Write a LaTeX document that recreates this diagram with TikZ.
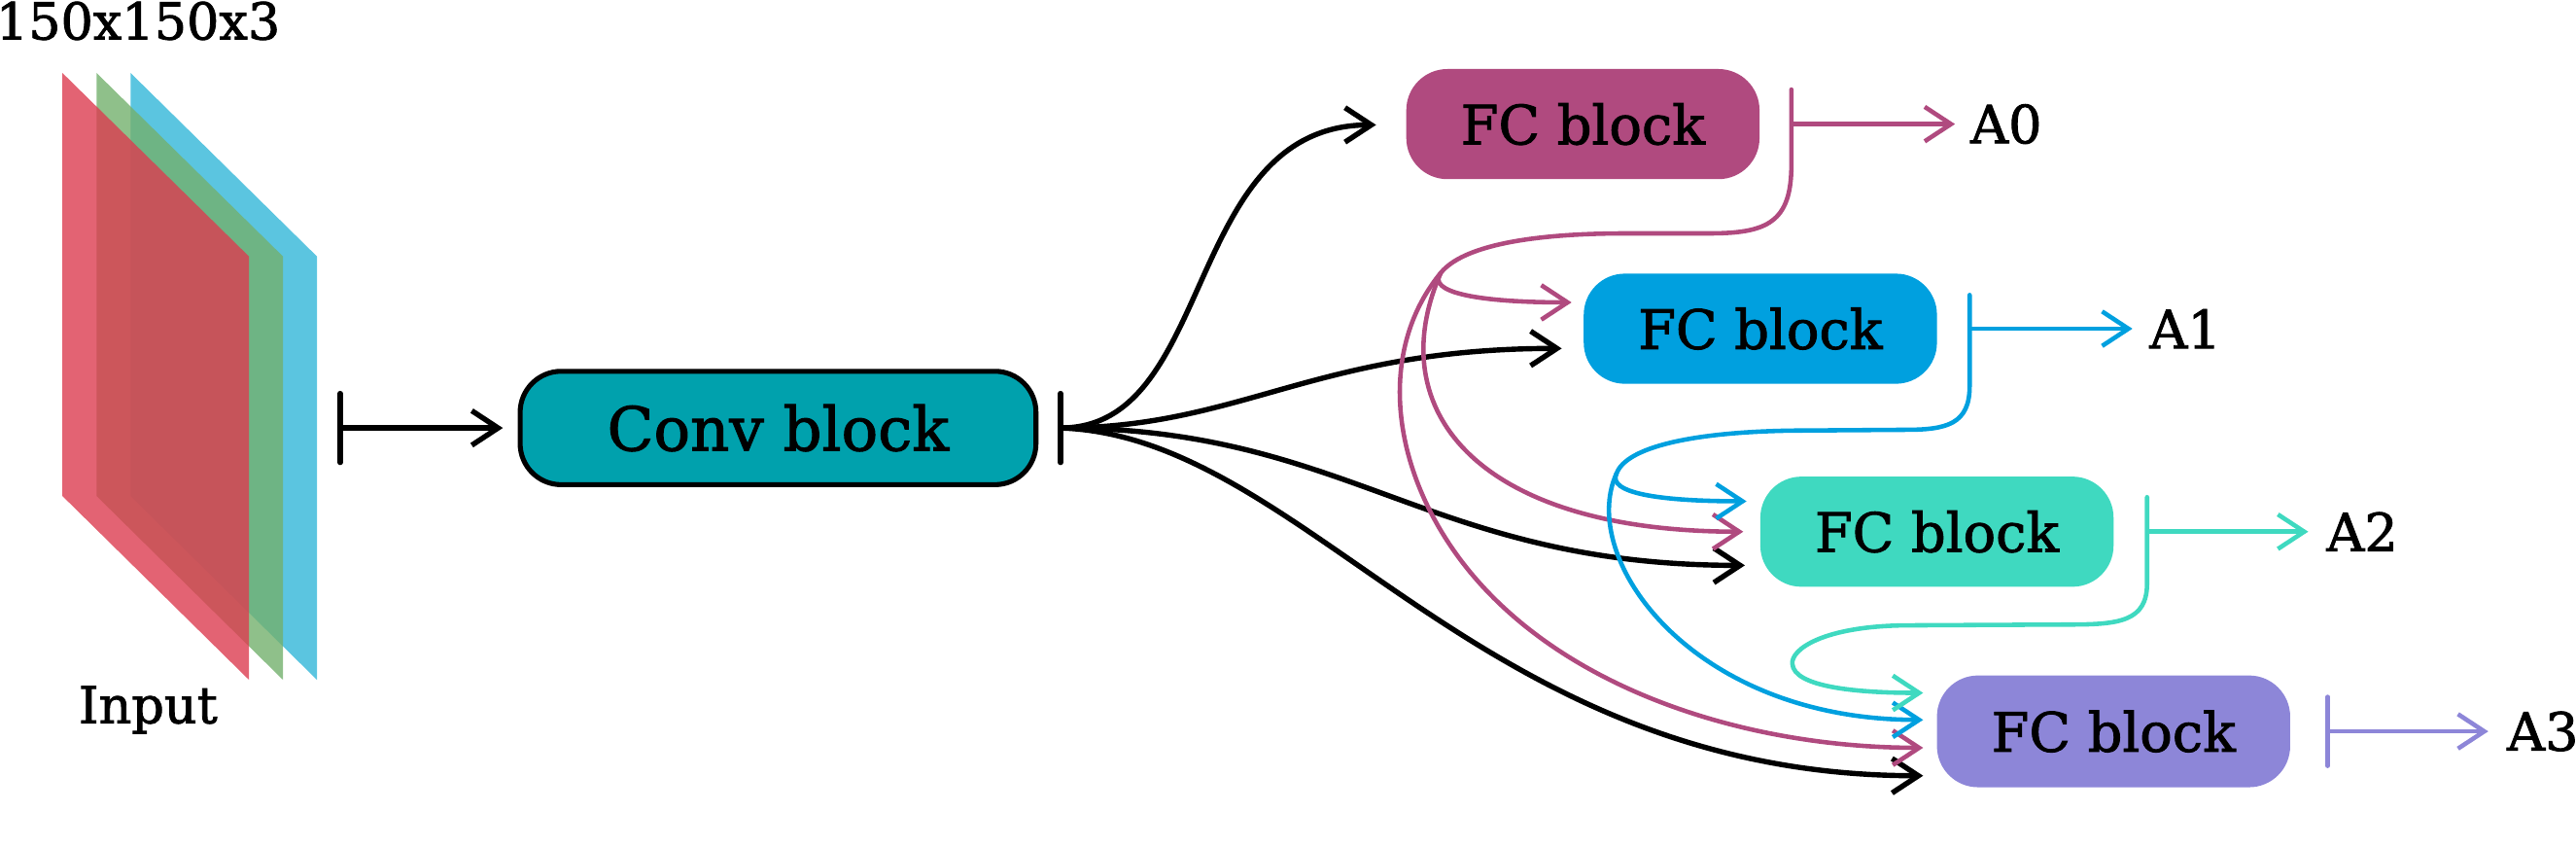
\documentclass[tikz,border=0pt]{standalone}
\usepackage{fontspec}
\setmainfont{DejaVu Serif}
\newfontfamily\lblfont{DejaVu Serif}[FakeBold=1.6]
\usetikzlibrary{arrows.meta,calc}
\definecolor{convc}{HTML}{00A1AD}
\definecolor{fca}{HTML}{B04A7F}
\definecolor{fcb}{HTML}{00A0DF}
\definecolor{fcc}{HTML}{3FD9C0}
\definecolor{fcd}{HTML}{8D86D8}
\definecolor{pred}{HTML}{DC3C50}
\definecolor{pgreen}{HTML}{73B06D}
\definecolor{pblue}{HTML}{5BC5E0}
\begin{document}
\begin{tikzpicture}[x=0.5pt,y=-0.5pt,
  fcbox/.style={rounded corners=12.5pt, minimum width=107.5pt, minimum height=33.5pt, inner sep=0pt, font=\lblfont\fontsize{16.5}{18}\selectfont},
  tip/.style={-{Straight Barb[length=8pt,width=10.5pt,line join=miter]}},
  blk/.style={line width=1.6pt, draw=black},
  col/.style={line width=1.35pt},
  lab/.style={font=\lblfont\fontsize{16}{18}\selectfont, inner sep=0pt, anchor=west},
  rc/.style={line cap=round}]
\useasboundingbox (0,0) rectangle (1568,515);
% input planes
\fill[pblue] (79.5,44.4) -- (192.9,156) -- (192.9,413.6) -- (79.5,301.8) -- cycle;
\fill[pgreen, fill opacity=0.8] (58.8,44.4) -- (172.2,156) -- (172.2,413.6) -- (58.8,301.8) -- cycle;
\fill[pred, fill opacity=0.8] (38,44.4) -- (151.5,156) -- (151.5,413.6) -- (38,301.8) -- cycle;
\node[anchor=base east, inner sep=0pt, font=\lblfont\fontsize{15.5}{18}\selectfont] (dims) at (171,24) {150x150x3};
\node[anchor=base west, inner sep=0pt, font=\lblfont\fontsize{15.5}{18}\selectfont] (inlab) at (47.5,440) {Input};
% blocks
\node[draw=black, line width=1.5pt, fill=convc, rounded corners=12.5pt, minimum width=157pt, minimum height=34.5pt, inner sep=0pt, font=\lblfont\fontsize{18.5}{20}\selectfont] (conv) at (473.6,260.4) {Conv block};
\node[fcbox, fill=fca] (fc0) at (963.5,75.5) {FC block};
\node[fcbox, fill=fcb] (fc1) at (1071.5,200) {FC block};
\node[fcbox, fill=fcc] (fc2) at (1179,323.5) {FC block};
\node[fcbox, fill=fcd, minimum height=34pt] (fc3) at (1286.5,445) {FC block};
% labels
\node[lab] (a0) at (1199,75.5) {A0};
\node[lab] (a1) at (1308,200) {A1};
\node[lab] (a2) at (1415.7,323.5) {A2};
\node[lab] (a3) at (1525.6,445) {A3};
% input arrow
\coordinate (in) at (207,260.4);
\draw[blk,rc] ($(in)+(0,-21)$) -- ($(in)+(0,21)$);
\draw[blk,tip] (in) -- ($(conv.west)+(-9,0)$);
% conv outputs
\coordinate (co) at ($(conv.east)+(13.5,0)$);
\draw[blk,rc] ($(co)+(0,-21)$) -- ($(co)+(0,21)$);
\draw[blk,tip] (co) .. controls +(95,0) and +(-118,0) .. ($(fc0.west)+(-18,0.5)$);
\draw[blk,tip] (co) .. controls +(110,0) and +(-150,0) .. ($(fc1.west)+(-13,12)$);
\draw[blk,tip] (co) .. controls +(176,0) and +(-193,0) .. ($(fc2.west)+(-9,20.5)$);
\draw[blk,tip] (co) .. controls +(150,5) and +(-272,0) .. ($(fc3.west)+(-8,27)$);
% FC0 outputs (magenta)
\coordinate (o0) at ($(fc0.east)+(19,0)$);
\coordinate (s0) at (877,166);
\draw[col,fca,tip] (o0) -- ($(a0.west)+(-9,0)$);
\draw[col,fca,rc] ($(o0)+(0,-21)$) -- ($(o0)+(0,25)$) .. controls +(0,35) and +(35,0) .. ($(o0)+(-50,66.5)$) -- (990,142) .. controls (930,142) and (890,150) .. (s0);
\draw[col,fca,tip] (s0) .. controls (868,178) and (900,184) .. ($(fc1.west)+(-7,-16)$);
\draw[col,fca,tip] (s0) .. controls (840,250) and (900,323.5) .. ($(fc2.west)+(-10,0)$);
\draw[col,fca,tip] (s0) .. controls (845,205) and (845,260) .. (870,310) .. controls (920,410) and (1050,455) .. ($(fc3.west)+(-8,10)$);
% FC1 outputs (blue)
\coordinate (o1) at ($(fc1.east)+(19.5,0)$);
\coordinate (s1) at (984,288);
\draw[col,fcb,tip] (o1) -- ($(a1.west)+(-10,0)$);
\draw[col,fcb,rc] ($(o1)+(0,-20.5)$) -- ($(o1)+(0,35)$) .. controls +(0,23) and +(25,0) .. (1160,261.5) -- (1090,262) .. controls (1030,263) and (990,272) .. (s1);
\draw[col,fcb,tip] (s1) .. controls (978,300) and (1010,305) .. ($(fc2.west)+(-8,-18.5)$);
\draw[col,fcb,tip] (s1) .. controls (960,340) and (1030,438) .. ($(fc3.west)+(-8,-7)$);
% FC2 outputs (turquoise)
\coordinate (o2) at ($(fc2.east)+(20,0)$);
\draw[col,fcc,tip] (o2) -- ($(a2.west)+(-10.7,0)$);
\draw[col,fcc,rc,tip] ($(o2)+(0,-21)$) -- ($(o2)+(0,31.5)$) .. controls +(0,23) and +(30,0) .. (1260,380) -- (1160,380.5) .. controls (1110,381) and (1090,395) .. (1091,404) .. controls (1092,418) and (1130,421.6) .. ($(fc3.west)+(-8,-23.4)$);
% FC3 output (purple)
\coordinate (o3) at ($(fc3.east)+(22.5,0)$);
\draw[col,fcd,rc] ($(o3)+(0,-21)$) -- ($(o3)+(0,21)$);
\draw[col,fcd,tip] (o3) -- ($(a3.west)+(-11,0)$);
\end{tikzpicture}
\end{document}
